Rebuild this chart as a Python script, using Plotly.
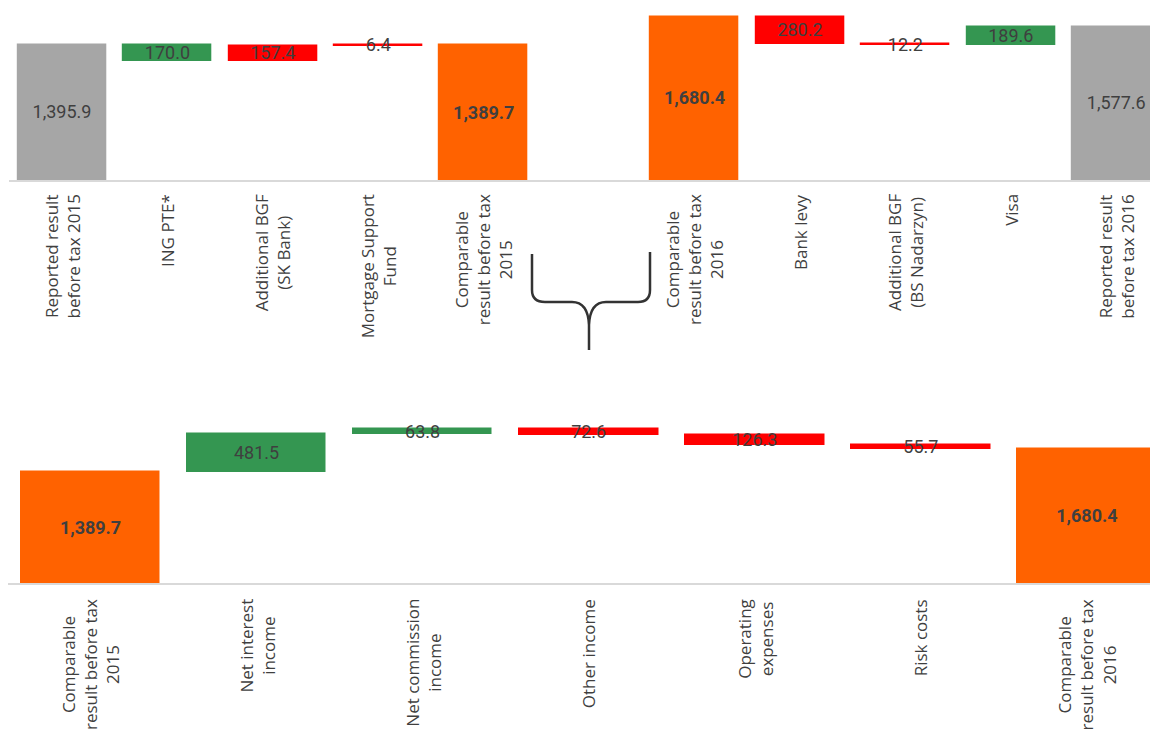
import plotly.graph_objects as go

# ---------------- data ----------------
top_labels = [
    "Reported result<br>before tax 2015",
    "ING PTE*",
    "Additional BGF<br>(SK Bank)",
    "Mortgage Support<br>Fund",
    "Comparable<br>result before tax<br>2015",
    "Comparable<br>result before tax<br>2016",
    "Bank levy",
    "Additional BGF<br>(BS Nadarzyn)",
    "Visa",
    "Reported result<br>before tax 2016",
]
top_values = [1395.9, 170.0, 157.4, 6.4, 1389.7, 1680.4, 280.2, 12.2, 189.6, 1577.6]
top_measure = ["total", "down", "up", "up", "total", "total", "down", "down", "up", "total"]
top_effect = ["reported", "gain", "cost", "cost", "comparable",
              "comparable", "cost", "cost", "gain", "reported"]

bottom_labels = [
    "Comparable<br>result before tax<br>2015",
    "Net interest<br>income",
    "Net commission<br>income",
    "Other income",
    "Operating<br>expenses",
    "Risk costs",
    "Comparable<br>result before tax<br>2016",
]
bottom_values = [1389.7, 481.5, 63.8, 72.6, 126.3, 55.7, 1680.4]
bottom_measure = ["total", "up", "up", "down", "down", "down", "total"]
bottom_effect = ["comparable", "gain", "gain", "cost", "cost", "cost", "comparable"]

# ---------------- styles ----------------
COLORS = {"reported": "#a6a6a6", "comparable": "#ff6200",
          "gain": "#349651", "cost": "#ff0000"}
TEXT_COLOR = "#3f3f3f"
LABEL_FONT = "Open Sans"
VALUE_FONT = "Roboto"
W, H = 1150, 731
TOP_GAP_AFTER = 5  # empty slot between the two groups in the top chart


def bridge(values, measure):
    bases, heights, level = [], [], 0.0
    for v, m in zip(values, measure):
        if m == "total":
            bases.append(0.0); level = v
        elif m == "up":
            bases.append(level); level += v
        else:
            level -= v; bases.append(level)
        heights.append(v)
    return bases, heights


fig = go.Figure()


def add_chart(labels, values, measure, effect, xaxis, yaxis, positions,
              label_y_px, text_shift):
    bases, heights = bridge(values, measure)
    colors = [COLORS[e] for e in effect]
    fig.add_trace(go.Bar(
        x=positions, y=heights, base=bases, width=0.835,
        marker=dict(color=colors, line=dict(color=colors, width=1.5)),
        xaxis=xaxis, yaxis=yaxis, hoverinfo="skip", showlegend=False,
    ))
    texts = []
    for v, e in zip(values, effect):
        s = f"{v:,.1f}"
        texts.append(f"<b>{s}</b>" if e == "comparable" else s)
    fig.add_trace(go.Scatter(
        x=positions, y=[b + h / 2 - text_shift for b, h in zip(bases, heights)],
        mode="text", text=texts,
        textfont=dict(family=VALUE_FONT, size=18, color=TEXT_COLOR),
        xaxis=xaxis, yaxis=yaxis, hoverinfo="skip", showlegend=False,
        cliponaxis=False,
    ))
    for p, lab in zip(positions, labels):
        fig.add_annotation(
            x=p, xref=xaxis, y=1 - label_y_px / H, yref="paper",
            text=lab, textangle=-90, showarrow=False,
            xanchor="center", yanchor="top", align="center",
            font=dict(family=LABEL_FONT, size=17, color=TEXT_COLOR),
        )


top_pos = [i + (1 if i >= TOP_GAP_AFTER else 0) for i in range(len(top_labels))]
bottom_pos = list(range(len(bottom_labels)))

add_chart(top_labels, top_values, top_measure, top_effect, "x", "y",
          top_pos, 192, 15)
add_chart(bottom_labels, bottom_values, bottom_measure, bottom_effect,
          "x2", "y2", bottom_pos, 597, 20)

axis_common = dict(showgrid=False, zeroline=False, showticklabels=False,
                   ticks="", showline=True, linecolor="#d9d9d9", linewidth=2,
                   fixedrange=True)
yaxis_common = dict(showgrid=False, zeroline=False, showticklabels=False,
                    ticks="", showline=False, fixedrange=True)

fig.update_layout(
    width=W, height=H,
    margin=dict(l=0, r=0, t=0, b=0),
    paper_bgcolor="white", plot_bgcolor="white",
    xaxis=dict(domain=[9.3 / W, 1], range=[-0.5, 10.32], anchor="y",
               **axis_common),
    yaxis=dict(domain=[1 - 180 / H, 1], range=[0, 1855], anchor="x",
               **yaxis_common),
    xaxis2=dict(domain=[7.5 / W, 1], range=[-0.5, 6.38], anchor="y2",
                **axis_common),
    yaxis2=dict(domain=[1 - 583 / H, 1 - 400 / H], range=[0, 2300],
                anchor="x2", **yaxis_common),
    bargap=0,
)


# curly brace linking the two comparable results
def px(x):
    return x / W


def py(y):
    return 1 - y / H


brace = (
    f"M {px(532)},{py(254)} L {px(532)},{py(290)} "
    f"Q {px(532)},{py(302)} {px(545)},{py(302)} "
    f"L {px(572)},{py(302)} Q {px(588)},{py(302)} {px(589)},{py(325)} "
    f"L {px(589)},{py(350)} "
    f"M {px(589)},{py(325)} Q {px(590)},{py(302)} {px(606)},{py(302)} "
    f"L {px(638)},{py(302)} Q {px(650)},{py(302)} {px(650)},{py(290)} "
    f"L {px(650)},{py(252)}"
)
fig.add_shape(type="path", path=brace, xref="paper", yref="paper",
              line=dict(color="#333333", width=2.5))

fig.write_html("out.html")
